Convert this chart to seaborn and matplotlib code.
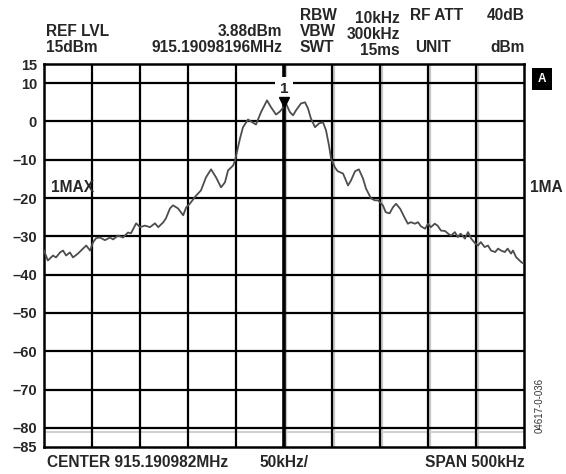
import matplotlib
matplotlib.use("Agg")
import matplotlib.pyplot as plt
import matplotlib.transforms as mtransforms
import seaborn as sns

# ============================================================
# DATA (frequency offset from center in kHz, level in dBm)
# ============================================================
freq_khz = [
    -250, -246, -240.6, -237.5, -233.3, -230.2, -227, -223, -219.8, -214.6,
    -209.4, -206, -202, -199, -195.8, -191.7, -186.5, -181.3, -178, -173,
    -167.7, -162.5, -159.4, -154, -150, -144.8, -139.6, -134.4, -131, -126,
    -123, -118.75, -115.6, -110.4, -105, -102, -98.2, -91.7, -86.5, -81.25,
    -76, -70.8, -65.6, -61.5, -58.3, -53, -51, -45.8, -42.7, -37.5,
    -34.4, -29.2, -24, -17.7, -13.5, -8.3, -4.2, 0, 2, 6.25,
    9.4, 12.5, 17.7, 21.9, 25, 28, 32.3, 36.5, 40.6, 43.75,
    46.9, 49, 53, 56, 61.5, 66.7, 69.8, 74, 78, 82.3,
    85.4, 90.6, 94.8, 98, 103, 106, 110, 113.5, 116.7, 121,
    126, 129, 132, 136.5, 139.6, 142.7, 147, 150, 153, 157,
    160, 163.5, 167.7, 171, 174, 178, 181, 184, 188.5, 191.7,
    195, 199, 202, 205, 209, 212.5, 215.6, 220, 223, 226,
    230, 233, 236.5, 238.5, 241.7, 247, 250,
]
level_dbm = [
    -33.7, -36.3, -35.0, -35.5, -34.2, -33.7, -35.0, -34.2, -35.5, -34.5,
    -33.2, -32.4, -33.7, -31.6, -30.5, -30.3, -31.0, -30.3, -30.8, -29.8,
    -30.3, -29.0, -29.2, -26.6, -27.6, -27.2, -27.6, -26.6, -27.6, -26.4,
    -25.3, -22.7, -21.9, -22.7, -24.5, -22.5, -21.5, -19.4, -18.0, -14.6,
    -12.5, -14.6, -17.2, -15.9, -12.8, -11.5, -10.2, -4.4, -1.5, 0.5,
    0.0, -0.8, 2.4, 5.5, 3.7, 1.8, 2.6, 3.9, 4.7, 2.4,
    1.6, 2.9, 4.7, 5.0, 3.4, 0.8, -1.5, -0.5, -0.2, -2.3,
    -6.3, -9.7, -12.0, -13.0, -13.6, -16.7, -15.4, -13.0, -12.5, -14.9,
    -17.5, -20.1, -20.6, -20.6, -21.9, -23.7, -24.0, -22.4, -21.5, -22.8,
    -25.3, -26.7, -26.3, -26.7, -26.3, -27.4, -28.0, -26.7, -27.6, -26.7,
    -27.2, -28.5, -28.6, -29.3, -29.8, -28.9, -30.2, -29.3, -30.6, -28.9,
    -30.6, -31.8, -32.4, -31.5, -32.8, -32.4, -33.7, -34.1, -33.2, -33.7,
    -34.1, -33.2, -34.5, -33.7, -35.4, -36.7, -37.2,
]

marker_freq = 0
marker_level = 3.88

y_ticks = [15, 10, 0, -10, -20, -30, -40, -50, -60, -70, -80, -85]
y_tick_labels = ["15", "10", "0", "–10", "–20", "–30", "–40", "–50",
                 "–60", "–70", "–80", "–85"]
x_grid = [-200, -150, -100, -50, 0, 50, 100, 150, 200]
y_grid = [10, 0, -10, -20, -30, -40, -50, -60, -70, -80]

# ============================================================
# STYLE
# ============================================================
sns.set_style("white")
plt.rcParams["font.family"] = ["Liberation Sans", "DejaVu Sans"]
plt.rcParams["font.weight"] = "bold"

W, H = 566, 474
fig = plt.figure(figsize=(W / 100, H / 100), dpi=100)
ax = fig.add_axes([44 / W, 27 / H, 480 / W, 383 / H])


def px(x, y):
    """Pixel position (from top-left) to figure fraction."""
    return x / W, 1 - y / H


# grid: light scan shadows on the right half, then black lines
for f in x_grid:
    if f >= 0:
        ax.axvline(f + 2.3, color="#c8c8c8", lw=1.6, zorder=1)
ax.axhline(-81.2, color="#d0d0d0", lw=1.4, zorder=1)
for f in x_grid:
    ax.axvline(f, color="black", lw=2.6 if f == 0 else 1.6, zorder=2)
for lv in y_grid:
    ax.axhline(lv, color="black", lw=1.6, zorder=2)

# trace
sns.lineplot(x=freq_khz, y=level_dbm, ax=ax, color="#4d4d4d", lw=1.3,
             zorder=5)

# marker 1
tri_tr = mtransforms.offset_copy(ax.transData, fig=fig, y=3.6, units="points")
ax.plot(marker_freq, marker_level, marker="v", color="black", ms=7.5,
        transform=tri_tr, zorder=6)
ax.annotate("1", xy=(marker_freq, marker_level), xytext=(0, 13),
            textcoords="offset points", ha="center", va="center",
            fontsize=11, fontweight="bold",
            bbox=dict(fc="white", ec="none", pad=3.5), zorder=4)

ax.set_xlim(-250, 250)
ax.set_ylim(-85, 15)
ax.set_xticks([])
ax.set_yticks(y_ticks)
ax.set_yticklabels(y_tick_labels, fontsize=10.5, fontweight="bold")
ax.tick_params(axis="y", length=0, pad=5)
for s in ax.spines.values():
    s.set_visible(True)
    s.set_color("black")
    s.set_linewidth(1.8)
ax.set_xlabel("")
ax.set_ylabel("")

# header texts
kw = dict(fontsize=11.2, fontweight="bold", va="baseline")
fig.text(*px(46, 36), "REF LVL", ha="left", **kw)
fig.text(*px(46, 52), "15dBm", ha="left", **kw)
fig.text(*px(282, 36), "3.88dBm", ha="right", **kw)
fig.text(*px(282, 52), "915.19098196MHz", ha="right", **kw)
fig.text(*px(300, 20), "RBW", ha="left", **kw)
fig.text(*px(300, 36), "VBW", ha="left", **kw)
fig.text(*px(300, 52), "SWT", ha="left", **kw)
fig.text(*px(400, 23), "10kHz", ha="right", **kw)
fig.text(*px(400, 39), "300kHz", ha="right", **kw)
fig.text(*px(400, 55), "15ms", ha="right", **kw)
fig.text(*px(410, 20), "RF ATT", ha="left", **kw)
fig.text(*px(525, 20), "40dB", ha="right", **kw)
fig.text(*px(415, 52), "UNIT", ha="left", **kw)
fig.text(*px(525, 52), "dBm", ha="right", **kw)

# trace labels
fig.text(*px(51, 192), "1MAX", ha="left", **kw)
fig.text(*px(530, 192), "1MA", ha="left", **kw)
fig.text(*px(542, 79), "A", ha="center", va="center", fontsize=8.5,
         fontweight="bold", color="white",
         bbox=dict(fc="black", ec="none", boxstyle="square,pad=0.45"))

# footer texts
fig.text(*px(47, 467), "CENTER 915.190982MHz", ha="left", **kw)
fig.text(*px(259, 467), "50kHz/", ha="left", **kw)
fig.text(*px(525, 467), "SPAN 500kHz", ha="right", **kw)
fig.text(*px(540, 405), "04617-0-036", ha="center", va="center",
         rotation=90, fontsize=7, fontweight="normal", color="#333333")

fig.savefig("out.png", dpi=100)
